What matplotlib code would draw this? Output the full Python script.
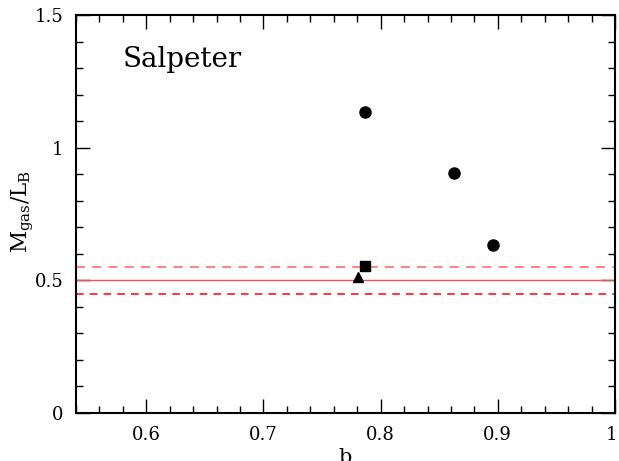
import matplotlib
matplotlib.use("Agg")
import matplotlib.pyplot as plt
import matplotlib.transforms as mtransforms
from matplotlib.ticker import MultipleLocator, FixedLocator, FixedFormatter

plt.rcParams['font.family'] = ['DejaVu Serif']
plt.rcParams['mathtext.fontset'] = 'dejavuserif'

# Data
circle_b = [0.787, 0.863, 0.896]
circle_m = [1.136, 0.903, 0.633]
square_b = [0.787]
square_m = [0.555]
tri_b = [0.781]
tri_m = [0.511]
ref_level = 0.5
ref_band = [0.45, 0.55]

xticks = [0.6, 0.7, 0.8, 0.9, 1.0]
xticklabels = ['0.6', '0.7', '0.8', '0.9', '1']
yticks = [0, 0.5, 1.0, 1.5]
yticklabels = ['0', '0.5', '1', '1.5']

fig = plt.figure(figsize=(6.19, 4.61), dpi=100)
ax = fig.add_axes([0.1228, 0.1041, 0.8707, 0.8634])

ax.axhline(ref_level, color='#ee5555', lw=1.0)
ax.axhline(ref_band[1], color='#ff7777', lw=1.3, ls=(0, (5, 4)))
ax.axhline(ref_band[0], color='#ff0000', lw=1.1, ls=(0, (5, 4)))

ax.plot(circle_b, circle_m, 'o', color='black', ms=8)
ax.plot(square_b, square_m, 's', color='black', ms=6.5)
ax.plot(tri_b, tri_m, '^', color='black', ms=6.5)

ax.set_xlim(0.54, 1.0)
ax.set_ylim(0, 1.5)
ax.xaxis.set_major_locator(FixedLocator(xticks))
ax.xaxis.set_major_formatter(FixedFormatter(xticklabels))
ax.yaxis.set_major_locator(FixedLocator(yticks))
ax.yaxis.set_major_formatter(FixedFormatter(yticklabels))
ax.xaxis.set_minor_locator(MultipleLocator(0.02))
ax.yaxis.set_minor_locator(MultipleLocator(0.1))

ax.tick_params(which='both', direction='in', top=True, right=True, width=1.0, colors='black')
ax.tick_params(which='major', length=10, labelsize=13, pad=9)
ax.tick_params(which='minor', length=5)
for s in ax.spines.values():
    s.set_linewidth(1.5)

ax.set_xlabel('b', fontsize=15, labelpad=3)
ax.set_ylabel(r'$\mathrm{M_{gas}/L_B}$', fontsize=15.5)
ax.yaxis.set_label_coords(-0.075, 0.506)

ax.text(0.087, 0.887, 'Salpeter', transform=ax.transAxes, fontsize=20, ha='left', va='center')

# nudge the last x tick label so it stays inside the figure
fig.canvas.draw()
last = ax.get_xticklabels()[-1]
last.set_transform(last.get_transform() + mtransforms.ScaledTranslation(-3 / 100, 0, fig.dpi_scale_trans))

fig.savefig('out.png', dpi=100)
